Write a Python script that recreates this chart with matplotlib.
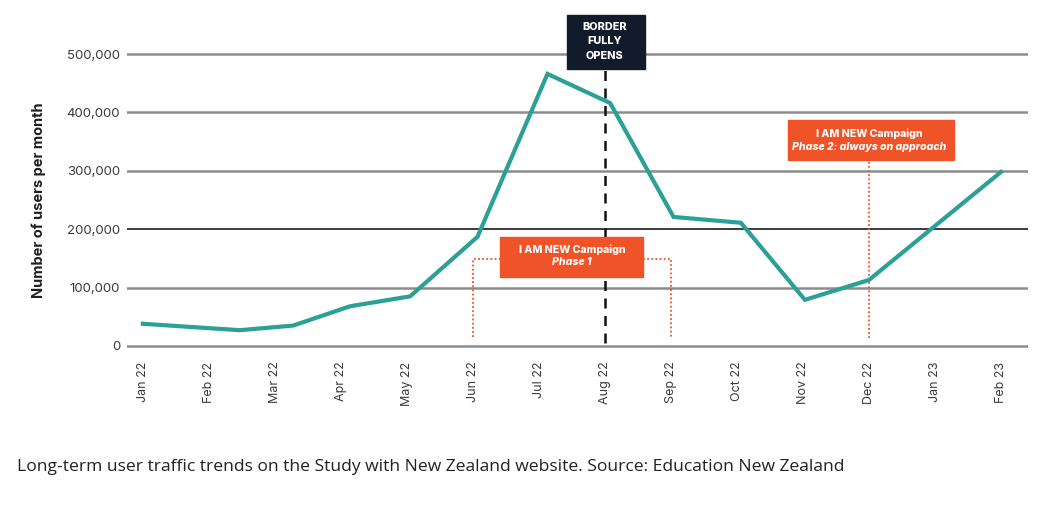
import matplotlib
matplotlib.use("Agg")
import matplotlib.pyplot as plt
from matplotlib.patches import Rectangle

# month labels on the x axis
months = ['Jan 22', 'Feb 22', 'Mar 22', 'Apr 22', 'May 22', 'Jun 22', 'Jul 22',
          'Aug 22', 'Sep 22', 'Oct 22', 'Nov 22', 'Dec 22', 'Jan 23', 'Feb 23']

# line vertices (position in months from Jan 22, users per month)
point_month = [0, 1.47, 2.28, 3.14, 4.05, 5.07, 6.13, 7.08, 8.04, 9.06, 10.03, 11.0, 13.0]
users = [38000, 27000, 35000, 68000, 85000, 187000, 466000, 416000, 221000,
         211000, 79000, 113000, 298000]

y_ticks = [0, 100000, 200000, 300000, 400000, 500000]

border_month = 7
phase1_months = (5, 8)
phase2_month = 11

TEAL = '#2aa096'
ORANGE = '#f05327'
NAVY = '#111b2b'
FONT = ['Inter', 'DejaVu Sans']

plt.rcParams['font.family'] = FONT

fig = plt.figure(figsize=(10.52, 5.08), dpi=100)
W, H = 1052, 508
ax = fig.add_axes([127 / W, 1 - 351.8 / H, (1028 - 127) / W, (351.8 - 48.2) / H])
ax.set_xlim(-0.24, 13.41)
ax.set_ylim(-10000, 510000)

for s in ax.spines.values():
    s.set_visible(False)

# horizontal grid lines
for v in y_ticks:
    if v == 200000:
        ax.axhline(v, color='#1a1a1a', lw=1.2, zorder=1)
    else:
        ax.axhline(v, color='#8c8c8c', lw=1.8, zorder=1)

ax.plot(point_month, users, color=TEAL, lw=3.0, zorder=4, solid_joinstyle='miter')

ax.set_yticks(y_ticks)
ax.set_yticklabels([f'{v:,}' for v in y_ticks], fontsize=9.5, color='#3a3a3a')
ax.set_xticks(range(len(months)))
ax.set_xticklabels(months, rotation=90, fontsize=9, color='#3a3a3a')
ax.tick_params(axis='both', length=0)
ax.tick_params(axis='y', pad=5)
ax.tick_params(axis='x', pad=7)
ax.set_ylabel('Number of users per month', fontsize=10.5, fontweight='bold',
              color='#1f1f1f', labelpad=15)

# border opens marker
ax.plot([border_month, border_month], [5000, 474000], color='#111111', lw=1.8,
        ls=(0, (4, 3)), zorder=3)
ax.add_patch(Rectangle((6.42, 474300), 7.61 - 6.42, 566800 - 474300, color=NAVY,
                       clip_on=False, zorder=6))
for txt, yy in zip(['BORDER', 'FULLY', 'OPENS'], [547000, 523000, 497000]):
    ax.text(border_month, yy, txt, color='white', fontsize=7.8, fontweight='heavy',
            ha='center', va='center', clip_on=False, zorder=7)

# phase 1 bracket
x1, x2 = phase1_months
dot = dict(color=ORANGE, lw=1.3, ls=(0, (1, 1.3)), zorder=2)
ax.plot([x1, x1, 5.415], [15400, 149000, 149000], **dot)
ax.plot([7.584, x2, x2], [149000, 149000, 15400], **dot)
ax.add_patch(Rectangle((5.415, 118100), 7.584 - 5.415, 186600 - 118100, color=ORANGE,
                       zorder=6))
ax.text((x1 + x2) / 2, 165500, 'I AM NEW Campaign', color='white', fontsize=7.6,
        fontweight='heavy', ha='center', va='center', zorder=7)
ax.text((x1 + x2) / 2, 143000, 'Phase 1', color='white', fontsize=7.6,
        fontweight='heavy', style='italic', ha='center', va='center', zorder=7)

# phase 2 marker
ax.plot([phase2_month, phase2_month], [13700, 318500], **dot)
ax.add_patch(Rectangle((9.78, 318500), 12.29 - 9.78, 387000 - 318500, color=ORANGE,
                       zorder=6))
ax.text(phase2_month, 364000, 'I AM NEW Campaign', color='white', fontsize=7.6,
        fontweight='heavy', ha='center', va='center', zorder=7)
ax.text(phase2_month, 340000, 'Phase 2: always on approach', color='white',
        fontsize=7.6, fontweight='heavy', style='italic', ha='center', va='center',
        zorder=7)

fig.text(17 / W, 1 - 467 / H,
         'Long-term user traffic trends on the Study with New Zealand website. '
         'Source: Education New Zealand',
         fontsize=12.6, family=['Open Sans', 'DejaVu Sans'], color='#222222',
         ha='left', va='center')

fig.savefig('out.png', dpi=100, facecolor='white')
